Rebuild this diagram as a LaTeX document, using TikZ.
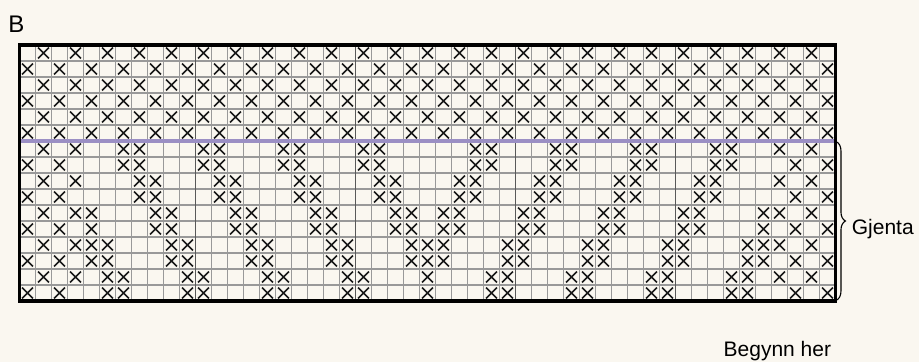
\documentclass[tikz,border=0pt]{standalone}
\usepackage{fontspec}
\setmainfont{Liberation Sans}
\usetikzlibrary{decorations.pathreplacing}
\definecolor{paper}{RGB}{250,247,240}
\definecolor{repcol}{RGB}{155,143,196}
\tikzset{
  thinline/.style = {draw=gray!80, line width=1.1pt},
  tenline/.style  = {draw=black!65, line width=1.6pt},
  frame/.style    = {draw=black, line width=3.2pt},
  repline/.style  = {draw=repcol, line width=3.2pt},
  xmark/.style    = {draw=black!90, line width=1.6pt},
  lbl/.style      = {inner sep=0pt, anchor=base west, font=\fontsize{21}{25}\selectfont},
  gbrace/.style   = {draw, line width=1.1pt,
                     decorate, decoration={brace, amplitude=9pt, aspect=0.5}}
}
% one cross in column #1, row #2 (counted from top left)
\newcommand{\kx}[2]{%
  \draw[xmark] (#1-0.84,#2-0.84) -- (#1-0.16,#2-0.16)
               (#1-0.84,#2-0.16) -- (#1-0.16,#2-0.84);}

\begin{document}
\begin{tikzpicture}[x=16pt, y=-16pt]
  \fill[paper] (-1.21875,-2.8125) rectangle (56.21875,19.8125);
  \useasboundingbox (-1.21875,-2.8125) rectangle (56.21875,19.8125);

  % grid
  \foreach \c in {0,...,51} \draw[thinline] (\c,0) -- (\c,16);
  \foreach \r in {0,...,16} \draw[thinline] (0,\r) -- (51,\r);
  \foreach \c in {11,21,31,41} \draw[tenline] (\c,0) -- (\c,16);

  % top six rows: checkerboard of crosses
  \foreach \r in {1,3,5}
    \foreach \c in {2,4,...,50} {\kx{\c}{\r}}
  \foreach \r in {2,4,6}
    \foreach \c in {1,3,...,51} {\kx{\c}{\r}}

  % repeat section
  \foreach \r/\cols in {
     7/{2,4,7,8,12,13,17,18,22,23,29,30,34,35,39,40,44,45,48,50},
     8/{1,3,7,8,12,13,17,18,22,23,29,30,34,35,39,40,44,45,49,51},
     9/{2,4,8,9,13,14,18,19,23,24,28,29,33,34,38,39,43,44,48,50},
    10/{1,3,8,9,13,14,18,19,23,24,28,29,33,34,38,39,43,44,49,51},
    11/{2,4,5,9,10,14,15,19,20,24,25,27,28,32,33,37,38,42,43,47,48,50},
    12/{1,3,5,9,10,14,15,19,20,24,25,27,28,32,33,37,38,42,43,47,49,51},
    13/{2,4,5,6,10,11,15,16,20,21,25,26,27,31,32,36,37,41,42,46,47,48,50},
    14/{1,3,5,6,10,11,15,16,20,21,25,26,27,31,32,36,37,41,42,46,47,49,51},
    15/{2,4,6,7,11,12,16,17,21,22,26,30,31,35,36,40,41,45,46,48,50},
    16/{1,3,6,7,11,12,16,17,21,22,26,30,31,35,36,40,41,45,46,49,51}}
    \foreach \c in \cols {\kx{\c}{\r}}

  \draw[repline] (0,6) -- (51,6);
  \draw[frame] (0,0) rectangle (51,16);

  % labels
  \node[lbl, font=\fontsize{24}{28}\selectfont] (title) at (-0.706,-0.79) {B};
  \coordinate (brtop) at (51.06,6.05);
  \coordinate (brbot) at (51.06,15.95);
  \draw[gbrace] (brtop) -- (brbot);
  \node[lbl] (rep) at (52.01,11.82) {Gjenta};
  \node[lbl] (start) at (44.0,19.48) {Begynn her};
\end{tikzpicture}
\end{document}
